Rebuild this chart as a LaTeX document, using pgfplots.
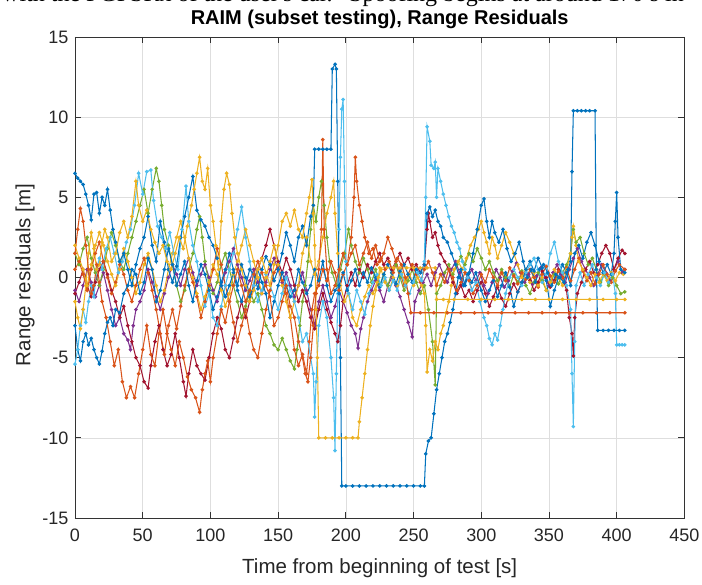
\documentclass[border=0pt]{standalone}
\usepackage{fontspec}
\setmainfont{Liberation Sans}
\newfontfamily\seriffont{Liberation Serif}
\usepackage{pgfplots}
\pgfplotsset{compat=1.18}
\definecolor{mblue}{rgb}{0,0.447,0.741}
\definecolor{morange}{rgb}{0.85,0.325,0.098}
\definecolor{myellow}{rgb}{0.929,0.694,0.125}
\definecolor{mpurple}{rgb}{0.494,0.184,0.556}
\definecolor{mgreen}{rgb}{0.466,0.674,0.188}
\definecolor{mlblue}{rgb}{0.301,0.745,0.933}
\definecolor{mred}{rgb}{0.635,0.078,0.184}
\begin{document}
\begin{tikzpicture}
\useasboundingbox (-75pt,-67pt) rectangle (627pt,518pt);
\begin{scope}
\clip (-75pt,-67pt) rectangle (627pt,518pt);
\node[anchor=base west, font=\seriffont\fontsize{24}{28}\selectfont, inner sep=0pt] at (-73pt,516.5pt) {with the PGPSRx of the user's car.};
\node[anchor=base west, font=\seriffont\fontsize{24}{28}\selectfont, inner sep=0pt] at (274pt,516.5pt) {Spoofing begins at around 170 s in};
\end{scope}
\node[font=\fontsize{20}{24}\selectfont\bfseries, text=black] at (304.7pt,499pt) {RAIM (subset testing), Range Residuals};
\node[font=\fontsize{20.5}{24}\selectfont, text=black!85] at (304.7pt,-50pt) {Time from beginning of test [s]};
\node[rotate=90, font=\fontsize{20.5}{24}\selectfont, text=black!85] at (-50pt,243pt) {Range residuals [m]};
\begin{axis}[at={(0pt,0pt)}, anchor=south west, scale only axis,
  width=609.4pt, height=481pt,
  xmin=0, xmax=450, ymin=-15, ymax=15,
  xtick={0,50,...,450}, ytick={-15,-10,...,15},
  grid=major, major grid style={color=black!13, line width=0.6pt},
  axis line style={color=black!80, line width=0.7pt},
  tick style={color=black!80, line width=0.7pt},
  major tick length=6pt, tick align=inside, xtick pos=both, ytick pos=both,
  ticklabel style={font=\fontsize{18}{20}\selectfont, text=black!85},
  xticklabel style={yshift=-7pt},
  yticklabel style={xshift=-3pt},
  /pgf/number format/assume math mode=true,
  every axis plot/.append style={line width=1.05pt, mark=*, mark size=1.25pt, mark options={solid}}]
% purple
\addplot[color=mpurple] coordinates {(0,-0.8)(3,-1.5)(6,-0.5)(9,0.5)(12,-0.3)(15,-1.2)(18,-0.5)(21,0.3)(24,-0.8)(27,-2.0)(30,-3.0)(33,-2.5)(36,-3.5)(39,-3.9)(41,-4.5)(43,-3.0)(45,-2.0)(48,-1.5)(51,-0.8)(54,0.5)(57,-0.3)(60,-1.2)(63,-2.0)(66,-1.0)(69,0.0)(72,0.8)(75,0.2)(78,-0.5)(81,0.5)(84,1.2)(87,0.3)(90,-0.5)(93,0.2)(96,0.8)(99,0.0)(102,-0.8)(105,-1.5)(108,-0.5)(111,0.3)(114,1.0)(117,1.8)(120,0.8)(123,0.0)(126,-0.8)(129,-0.2)(132,0.5)(135,-0.3)(138,-1.0)(141,-0.3)(144,0.5)(147,1.2)(150,0.5)(153,-0.3)(156,0.3)(159,-0.5)(162,-1.2)(165,-0.5)(168,0.3)(171,-0.8)(174,-2.0)(177,-3.0)(180,-1.5)(183,-0.5)(186,-1.5)(189,-2.5)(192,-1.8)(195,-0.8)(198,-1.5)(201,-2.2)(204,-3.0)(207,-3.5)(209,-4.4)(211,-3.2)(213,-2.5)(216,-1.5)(219,-0.8)(222,-0.2)(225,-0.8)(228,-1.5)(231,-0.5)(234,0.0)(237,-0.5)(240,-1.2)(243,-2.0)(246,-2.8)(249,-3.7)(251,-1.5)(254,-0.8)(257,-0.3)(260,0.2)(263,-0.5)(266,0.3)(269,0.8)(272,0.2)(275,-0.3)(278,0.5)(281,1.0)(284,0.3)(287,-0.5)(290,0.0)(293,0.5)(296,-0.2)(299,0.3)(302,-0.5)(305,-1.0)(308,-0.3)(311,0.5)(314,0.0)(317,-0.6)(320,-0.2)(323,0.4)(326,0.9)(329,0.3)(332,-0.3)(335,0.2)(338,-0.4)(341,0.1)(344,0.6)(347,0.0)(350,-0.5)(353,0.3)(356,0.8)(359,0.2)(362,-0.3)(365,0.5)(368,1.2)(371,1.8)(374,1.0)(377,0.5)(380,0.0)(383,-0.5)(386,0.2)(389,0.8)(392,0.3)(395,-0.2)(398,0.5)(401,1.0)(404,0.3)(406,0.5)};
% green
\addplot[color=mgreen] coordinates {(0,1.5)(3,0.8)(6,1.8)(9,2.5)(12,1.2)(15,0.3)(18,-0.5)(21,0.5)(24,1.8)(27,2.8)(30,2.0)(33,1.0)(36,0.5)(39,1.5)(42,2.5)(45,3.5)(48,4.5)(51,5.5)(54,4.0)(57,5.5)(60,6.8)(62,6.0)(64,4.5)(66,3.0)(69,2.0)(72,0.8)(75,-0.5)(78,-1.5)(81,-0.8)(84,0.5)(87,1.5)(90,3.0)(92,3.8)(94,2.5)(96,1.0)(99,-0.5)(102,-1.0)(105,-0.3)(108,0.8)(111,1.5)(114,0.5)(117,-0.5)(120,-1.5)(123,-2.5)(126,-1.8)(129,-0.8)(132,-1.5)(135,-1.0)(138,-2.0)(141,-3.0)(144,-3.5)(147,-4.2)(150,-4.5)(153,-3.8)(156,-4.5)(159,-5.2)(162,-5.7)(164,-4.5)(166,-3.0)(168,-1.5)(170,-0.5)(172,1.0)(174,3.0)(176,4.5)(178,3.5)(180,5.0)(182,6.0)(184,4.5)(186,2.5)(188,1.0)(190,0.3)(193,-0.5)(196,0.5)(199,1.5)(202,3.0)(204,2.0)(207,1.0)(210,0.3)(213,1.2)(216,0.5)(219,-0.3)(222,0.5)(225,-0.5)(228,0.2)(231,-0.5)(234,0.3)(237,0.8)(240,0.0)(243,-0.8)(246,-0.2)(249,0.5)(252,-0.3)(255,-1.0)(258,-0.5)(261,-2.0)(264,-4.0)(266,-6.7)(267,-1.0)(270,-0.5)(273,0.3)(276,0.8)(279,0.2)(282,0.8)(285,1.3)(288,0.8)(291,1.5)(294,1.0)(297,1.8)(300,1.2)(303,0.5)(306,1.0)(309,0.3)(312,-0.2)(315,0.5)(318,0.0)(321,-0.6)(324,0.2)(327,-0.3)(330,0.4)(333,-0.5)(336,-1.0)(339,-0.3)(342,0.3)(345,-0.2)(348,-0.8)(351,-0.3)(354,0.2)(357,-0.4)(360,0.3)(363,0.8)(366,1.5)(368,3.0)(370,2.2)(373,2.5)(376,1.5)(379,0.8)(382,1.2)(385,0.5)(388,-0.3)(391,0.2)(394,-0.5)(397,0.0)(400,-0.5)(403,-1.0)(406,-0.9)};
% dark red
\addplot[color=mred] coordinates {(0,-1.0)(3,-0.3)(6,0.5)(9,-0.5)(12,-1.2)(15,-0.3)(18,0.5)(21,1.0)(24,0.2)(27,-0.8)(30,-1.5)(33,-2.5)(36,-1.8)(39,-3.0)(42,-4.0)(45,-5.0)(48,-5.5)(51,-6.5)(54,-6.9)(56,-5.5)(59,-4.0)(62,-3.0)(65,-4.5)(68,-5.5)(71,-4.8)(74,-3.5)(77,-5.0)(80,-6.5)(82,-7.4)(84,-6.0)(87,-4.5)(90,-5.5)(93,-6.0)(96,-6.4)(99,-5.0)(102,-3.5)(105,-2.5)(108,-3.2)(111,-4.5)(114,-5.0)(117,-3.8)(120,-2.5)(123,-1.5)(126,-2.5)(129,-1.5)(132,-0.5)(135,0.5)(138,1.2)(141,2.0)(144,3.0)(147,2.0)(150,1.0)(153,0.3)(156,1.2)(159,0.5)(162,-0.5)(165,-1.5)(168,-0.8)(171,-1.5)(174,-2.5)(177,-3.2)(180,-2.0)(183,-1.0)(186,-2.0)(189,-2.8)(192,-3.5)(194,-4.0)(196,-3.0)(198,-1.5)(201,-0.5)(204,0.3)(207,-0.5)(210,0.5)(213,0.0)(216,0.8)(219,0.3)(222,1.0)(225,1.5)(228,0.8)(231,1.2)(234,0.5)(237,1.0)(240,1.5)(243,0.8)(246,1.2)(249,0.5)(252,0.8)(255,0.3)(258,0.8)(260,3.0)(261,4.0)(262,3.5)(264,2.5)(266,2.8)(268,2.0)(270,1.5)(273,1.0)(276,0.5)(279,-0.3)(282,-1.0)(285,-0.5)(288,-1.2)(291,-0.8)(294,-1.5)(297,-0.8)(300,-0.3)(303,-1.0)(306,-1.8)(309,-1.2)(312,-0.6)(315,-1.3)(318,-1.8)(321,-1.0)(324,-0.4)(327,-0.9)(330,-0.3)(333,0.3)(336,-0.2)(339,-0.8)(342,-0.3)(345,0.4)(348,0.0)(351,-0.6)(354,-0.2)(357,0.5)(360,0.0)(363,-0.8)(365,-2.5)(367,-3.5)(368,-4.9)(369,-2.5)(371,-1.0)(374,-0.3)(377,0.5)(380,1.0)(383,0.3)(386,0.8)(389,1.5)(392,2.0)(395,1.5)(398,0.5)(401,1.2)(404,1.7)(406,1.5)};
% orange (second)
\addplot[color=morange] coordinates {(0,0.5)(3,1.0)(6,0.2)(9,-0.8)(12,0.5)(15,1.5)(18,2.2)(21,1.0)(24,0.0)(27,-1.0)(30,-0.3)(33,0.8)(36,0.2)(39,-0.8)(42,-1.5)(45,-0.5)(48,0.5)(51,1.2)(54,0.3)(57,-0.8)(60,-2.0)(63,-3.5)(66,-4.8)(69,-3.0)(72,-2.0)(75,-3.2)(78,-1.8)(81,-0.5)(84,0.5)(87,-0.3)(90,-1.2)(93,-2.5)(96,-1.5)(99,-0.5)(102,0.5)(105,1.8)(108,0.8)(111,-0.5)(114,-1.5)(117,-2.8)(120,-4.0)(123,-3.0)(126,-2.0)(129,-3.5)(132,-4.5)(135,-5.0)(138,-3.5)(141,-2.0)(144,-0.8)(147,0.3)(150,0.8)(153,-0.2)(156,-1.0)(159,-2.5)(162,-4.5)(165,-5.5)(168,-4.8)(171,-6.0)(173,-4.0)(175,-2.0)(177,-1.0)(180,-0.5)(183,0.5)(186,-0.2)(189,1.0)(192,0.3)(195,-0.8)(198,0.2)(201,0.8)(204,1.5)(207,2.0)(210,0.8)(213,1.5)(216,2.2)(219,1.2)(222,2.0)(225,1.0)(228,1.5)(231,2.5)(234,1.8)(237,1.0)(240,0.3)(243,-0.5)(246,0.2)(249,0.8)(252,0.2)(255,-0.3)(258,0.5)(261,1.0)(264,0.3)(267,-0.5)(270,0.2)(273,-0.3)(276,0.5)(279,0.0)(282,-0.8)(285,-0.3)(288,0.3)(291,-0.2)(294,-1.0)(297,-0.5)(300,0.2)(303,-0.3)(306,0.5)(309,0.0)(312,-0.5)(315,0.3)(318,-0.2)(321,0.6)(324,0.1)(327,-0.4)(330,0.3)(333,-0.1)(336,0.5)(339,0.0)(342,-0.6)(345,0.2)(348,0.7)(351,0.1)(354,-0.3)(357,0.4)(360,0.0)(363,0.6)(366,-0.2)(369,0.5)(372,1.2)(375,0.4)(378,-0.2)(381,0.3)(384,-0.4)(387,0.2)(390,0.8)(393,0.2)(396,-0.3)(399,0.4)(402,0.8)(406,0.5)};
% yellow (second)
\addplot[color=myellow] coordinates {(0,2.0)(3,1.2)(6,0.5)(9,-0.5)(12,0.8)(15,2.0)(18,2.8)(21,2.0)(24,1.0)(27,0.2)(30,-0.5)(33,0.5)(36,1.8)(39,1.0)(42,0.0)(45,-1.0)(48,-0.3)(51,0.8)(54,1.5)(57,0.5)(60,-0.5)(63,-1.5)(66,-0.8)(69,0.5)(72,1.5)(75,2.5)(78,3.5)(81,2.5)(84,1.2)(87,0.0)(90,-1.0)(93,-2.0)(96,-1.2)(99,-0.3)(102,0.8)(105,0.2)(108,-0.8)(111,-1.8)(114,-1.0)(117,0.2)(120,1.0)(123,2.0)(126,3.0)(129,2.0)(132,1.0)(135,0.0)(138,-1.0)(141,0.0)(144,1.0)(147,2.0)(150,0.8)(153,-0.5)(156,-1.5)(159,-2.5)(162,-1.5)(165,-0.5)(168,1.5)(171,2.5)(174,1.0)(177,0.2)(180,1.0)(183,2.5)(186,4.0)(189,5.0)(191,6.0)(192,4.0)(194,1.5)(196,-0.5)(199,-1.5)(202,-1.0)(205,-2.5)(208,-3.0)(211,-2.0)(214,-1.2)(217,-0.5)(220,-1.0)(223,-0.3)(226,0.5)(229,-0.3)(232,-0.8)(235,0.0)(238,-0.5)(241,0.3)(244,-0.3)(247,0.2)(250,-0.5)(253,0.0)(256,-0.5)(258,-1.0)(259,-3.0)(260,-5.9)(262,-4.5)(264,-5.2)(266,-4.0)(268,-4.5)(270,-3.5)(272,-3.0)(274,-2.2)(276,-1.5)(278,-0.5)(280,0.5)(283,1.0)(286,0.5)(289,1.2)(292,2.0)(295,2.5)(298,3.0)(300,3.5)(302,2.8)(304,2.2)(306,1.5)(308,2.5)(310,2.0)(312,1.2)(315,2.0)(318,2.8)(321,2.2)(324,1.5)(327,0.8)(330,0.0)(333,0.5)(336,-0.3)(339,0.3)(342,-0.5)(345,0.0)(348,-0.8)(351,-0.3)(354,0.5)(357,0.0)(360,-0.5)(363,0.5)(366,1.5)(367,2.5)(368,3.2)(370,2.0)(372,1.0)(375,0.5)(378,0.0)(381,-0.5)(384,0.2)(387,-0.3)(390,0.2)(393,-0.2)(396,0.3)(399,-0.2)(402,0.3)(405,0.2)};
% blue (second)
\addplot[color=mblue] coordinates {(0,-3.0)(2,-4.5)(4,-5.2)(6,-4.0)(8,-3.5)(10,-4.2)(12,-3.8)(14,-4.5)(16,-5.0)(18,-5.4)(20,-4.6)(22,-3.5)(24,-2.8)(26,-2.5)(28,-3.0)(30,-2.0)(33,-2.2)(36,-1.0)(39,-0.5)(42,0.5)(45,0.2)(48,-1.0)(51,-0.3)(54,1.2)(57,0.5)(60,-1.5)(63,-0.8)(66,0.5)(69,1.8)(72,0.8)(75,-0.5)(78,0.2)(81,1.0)(84,-0.5)(87,-1.5)(90,-0.2)(93,0.8)(96,0.2)(99,-0.8)(102,-2.0)(105,-1.2)(108,-0.3)(111,0.5)(114,1.5)(117,0.5)(120,-0.5)(123,0.8)(126,0.0)(129,-1.2)(132,-0.5)(135,0.5)(138,-0.3)(141,-1.0)(144,-2.5)(147,-1.5)(150,-0.5)(153,0.3)(156,-0.5)(159,-1.2)(162,-0.8)(165,0.5)(168,-0.3)(171,-1.0)(174,-0.5)(177,0.5)(180,-0.2)(183,1.0)(186,-0.5)(189,-1.5)(192,-0.8)(195,-0.5)(198,0.3)(201,-0.8)(204,-0.2)(207,0.5)(210,-0.5)(213,0.3)(216,-0.3)(219,0.6)(222,0.0)(225,-0.6)(228,0.2)(231,0.8)(234,0.3)(237,-0.4)(240,0.4)(243,0.8)(246,0.2)(249,-0.3)(252,0.5)(255,0.3)(258,0.8)(260,4.0)(262,4.4)(264,3.8)(266,4.2)(268,3.5)(270,3.2)(272,2.5)(275,2.2)(278,1.5)(281,0.8)(284,0.0)(287,-0.5)(290,0.2)(293,-0.3)(296,0.3)(300,-0.8)(303,-1.5)(306,-0.8)(309,-0.2)(312,-1.2)(315,-0.5)(318,0.3)(321,-0.6)(324,-1.8)(327,-0.9)(330,-0.3)(333,0.5)(336,1.0)(339,0.4)(342,1.2)(345,0.6)(348,-0.2)(351,-1.8)(354,-0.8)(357,0.0)(360,0.8)(363,0.3)(366,-0.5)(369,1.5)(372,2.0)(375,1.2)(378,2.2)(381,2.8)(384,2.0)(387,1.0)(390,0.3)(393,0.8)(396,0.2)(398,1.5)(399,3.5)(400,5.3)(401,2.5)(403,0.5)(406,0.3)};
% light blue
\addplot[color=mlblue] coordinates {(0,-5.4)(2,-4.5)(4,-3.0)(6,-2.0)(8,-2.8)(10,-1.5)(12,-0.5)(14,-1.2)(16,0.5)(18,1.2)(20,0.5)(23,1.8)(26,2.5)(29,1.5)(32,0.3)(35,1.0)(38,2.2)(41,3.0)(44,4.5)(47,6.5)(50,5.2)(53,6.6)(56,6.7)(58,4.8)(61,3.2)(64,2.5)(67,1.8)(70,2.8)(73,1.5)(76,0.5)(79,3.0)(82,5.7)(84,3.5)(87,2.0)(90,1.0)(93,-0.5)(96,-1.8)(99,-1.0)(102,-2.5)(105,-3.0)(108,-1.8)(111,-0.5)(114,0.5)(117,1.5)(120,3.0)(123,4.4)(126,2.5)(129,1.0)(132,-0.5)(135,-1.5)(138,-0.8)(141,0.2)(144,-0.5)(147,-1.2)(150,-2.0)(153,-1.0)(156,0.0)(159,-0.8)(162,-1.5)(165,-2.5)(168,-4.0)(171,-3.5)(174,-5.0)(176,-6.0)(177,-8.7)(178,-6.5)(180,-3.0)(183,-1.5)(186,-2.5)(189,-5.0)(191,-7.5)(192,-10.8)(193,-6.0)(194,-1.0)(195,3.0)(196,7.5)(197,10.5)(198,11.1)(199,6.0)(200,1.0)(202,-1.0)(205,-2.0)(208,-0.8)(211,-1.5)(214,-2.3)(217,-1.0)(220,-0.3)(223,0.2)(226,-0.5)(229,0.0)(232,-0.8)(235,-0.2)(238,-0.8)(241,0.2)(244,-0.5)(247,-1.0)(250,-0.3)(253,0.3)(256,-0.2)(258,1.0)(259,5.0)(260,9.4)(262,8.5)(263,7.0)(265,6.8)(266,7.2)(267,5.0)(268,6.8)(270,6.0)(272,5.2)(274,4.5)(276,3.8)(278,3.2)(280,2.8)(282,2.2)(284,1.8)(286,1.0)(288,0.5)(290,0.0)(293,-0.8)(296,-0.3)(299,-1.5)(302,-2.5)(304,-3.0)(306,-3.8)(308,-4.2)(310,-3.5)(312,-3.9)(314,-3.0)(316,-2.0)(318,-1.0)(321,0.0)(324,0.5)(327,0.0)(330,-0.5)(333,0.3)(336,0.8)(339,1.2)(342,0.5)(345,-0.3)(348,0.2)(351,1.5)(354,2.2)(357,1.0)(360,0.3)(363,-0.5)(366,-2.0)(367,-6.0)(368,-9.3)(369,-4.0)(370,-0.5)(373,0.3)(376,-0.5)(379,0.2)(382,0.8)(385,0.0)(388,-0.5)(391,0.3)(394,-0.3)(397,0.2)(399,-1.0)(400,-4.2)(402,-4.2)(404,-4.2)(406,-4.2)};
% blue (first, spoofed)
\addplot[color=mblue] coordinates {(0,6.5)(2,6.2)(4,6.0)(6,5.8)(8,5.2)(10,4.5)(12,3.6)(14,5.2)(16,5.3)(18,4.0)(20,5.0)(22,4.5)(24,5.5)(26,4.2)(28,3.0)(30,2.2)(33,1.0)(36,1.5)(39,0.5)(42,-0.5)(45,0.8)(48,1.8)(51,2.5)(54,3.8)(57,2.0)(60,1.0)(63,3.5)(66,2.2)(69,0.5)(72,-0.3)(75,0.7)(78,2.5)(81,3.8)(84,5.0)(87,6.3)(90,4.2)(93,3.6)(96,3.2)(99,2.5)(102,2.0)(105,1.2)(108,-0.5)(111,-1.2)(114,-0.5)(117,0.3)(120,-0.8)(123,-1.5)(126,-0.5)(129,0.5)(132,0.2)(135,-0.7)(138,0.5)(141,1.3)(144,0.8)(147,-0.2)(150,0.5)(153,1.5)(156,2.8)(159,2.0)(162,1.0)(165,2.5)(168,3.2)(171,2.0)(174,3.8)(176,4.5)(177,8.0)(180,8.0)(183,8.0)(186,8.0)(189,8.0)(190,13.0)(192,13.3)(193,13.0)(194,6.0)(195,-1.0)(196,-5.0)(197,-13.0)(200,-13)(205,-13)(210,-13)(215,-13)(220,-13)(225,-13)(230,-13)(235,-13)(240,-13)(245,-13)(250,-13)(255,-13)(258,-13)(259,-11.0)(261,-10.2)(263,-10.0)(265,-8.5)(267,-7.0)(269,-6.0)(271,-5.0)(273,-4.0)(275,-3.5)(277,-2.8)(279,-2.0)(281,-1.0)(283,0.0)(285,0.5)(288,-0.5)(291,0.3)(294,1.5)(297,3.0)(300,4.5)(302,4.9)(304,3.5)(306,2.5)(308,3.5)(310,2.8)(313,2.2)(316,3.0)(319,1.8)(322,1.0)(325,1.5)(328,2.2)(331,1.0)(334,0.0)(337,0.5)(340,-0.3)(343,0.5)(346,0.8)(349,0.3)(352,-0.5)(355,0.2)(358,0.0)(361,-0.3)(364,0.5)(366,1.0)(367,6.6)(368,10.4)(371,10.4)(374,10.4)(377,10.4)(380,10.4)(384,10.4)(385,0.5)(386,-3.3)(390,-3.3)(394,-3.3)(398,-3.3)(402,-3.3)(406,-3.3)};
% yellow (first)
\addplot[color=myellow] coordinates {(0,-1.5)(2,-2.5)(4,-3.2)(6,-2.0)(8,-0.5)(10,1.5)(12,2.8)(14,1.8)(16,0.5)(18,0.8)(20,2.2)(22,3.0)(24,2.5)(27,1.0)(30,1.5)(33,2.8)(36,3.5)(39,2.5)(42,3.8)(45,6.0)(47,4.5)(50,3.5)(53,4.2)(56,3.0)(59,2.2)(62,1.5)(65,2.0)(68,1.0)(71,0.5)(74,1.5)(77,2.5)(80,1.8)(83,3.2)(86,4.5)(88,5.5)(90,6.5)(92,7.5)(94,6.0)(96,5.5)(98,6.8)(100,4.5)(102,3.5)(104,2.0)(106,0.5)(108,3.5)(110,5.5)(112,6.5)(114,5.8)(116,4.0)(118,2.5)(120,1.5)(123,0.5)(126,-0.5)(129,-1.5)(132,-0.8)(135,0.5)(138,1.2)(141,0.3)(144,-0.5)(147,0.8)(150,2.0)(153,3.5)(156,4.0)(159,3.2)(162,4.2)(165,3.0)(168,2.5)(171,4.0)(173,5.0)(175,6.1)(176,4.0)(177,2.0)(178,-2.0)(179,-5.0)(180,-10)(185,-10)(190,-10)(195,-10)(200,-10)(205,-10)(209,-10)(210,-9.0)(212,-7.5)(214,-6.0)(216,-4.5)(218,-3.0)(220,-1.8)(222,-0.8)(224,0.0)(225,0.6)(230,0.6)(235,0.6)(240,0.6)(245,0.6)(250,0.6)(255,0.6)(260,0.6)(266,0.6)(267,-1.37)(272,-1.37)(280,-1.37)(290,-1.37)(300,-1.37)(310,-1.37)(320,-1.37)(330,-1.37)(340,-1.37)(350,-1.37)(360,-1.37)(370,-1.37)(380,-1.37)(390,-1.37)(400,-1.37)(406,-1.37)};
% orange (first)
\addplot[color=morange] coordinates {(0,1.5)(2,3.0)(4,4.3)(6,3.5)(8,2.0)(10,0.5)(12,-1.0)(14,-0.5)(16,0.8)(18,-0.3)(20,-1.5)(23,-2.5)(26,-4.0)(29,-5.5)(32,-4.5)(35,-6.5)(38,-7.5)(41,-6.8)(44,-7.5)(47,-6.0)(50,-4.5)(53,-3.0)(56,-4.8)(59,-5.5)(62,-3.5)(65,-2.0)(68,-3.5)(71,-4.5)(74,-5.5)(77,-4.0)(80,-5.0)(83,-6.2)(86,-7.0)(89,-7.5)(92,-8.4)(94,-7.0)(96,-6.0)(98,-5.2)(100,-6.5)(102,-5.0)(105,-3.5)(108,-2.0)(111,-2.8)(114,-1.5)(117,-0.5)(120,0.5)(123,-0.5)(126,-1.5)(129,-0.8)(132,0.2)(135,1.0)(138,0.3)(141,-0.5)(144,-1.2)(147,-3.0)(150,-2.5)(153,-1.5)(156,-0.5)(159,-1.8)(162,-2.5)(165,-4.0)(168,-5.0)(170,-6.0)(172,-6.5)(174,-5.0)(176,-3.0)(178,-1.0)(180,0.5)(182,3.0)(183,8.6)(184,3.0)(186,0.5)(189,-1.0)(192,-0.5)(195,0.5)(198,1.5)(201,0.8)(204,2.5)(206,5.0)(207,7.5)(208,6.0)(210,4.5)(212,3.5)(214,2.5)(217,1.5)(220,1.8)(223,0.8)(226,1.2)(229,0.5)(232,1.0)(235,0.3)(238,1.2)(241,0.8)(244,0.0)(246,-1.0)(248,-2.2)(255,-2.2)(265,-2.2)(275,-2.2)(285,-2.2)(295,-2.2)(305,-2.2)(315,-2.2)(325,-2.2)(335,-2.2)(345,-2.2)(355,-2.2)(365,-2.2)(375,-2.2)(385,-2.2)(395,-2.2)(406,-2.2)};
\end{axis}
\end{tikzpicture}
\end{document}
